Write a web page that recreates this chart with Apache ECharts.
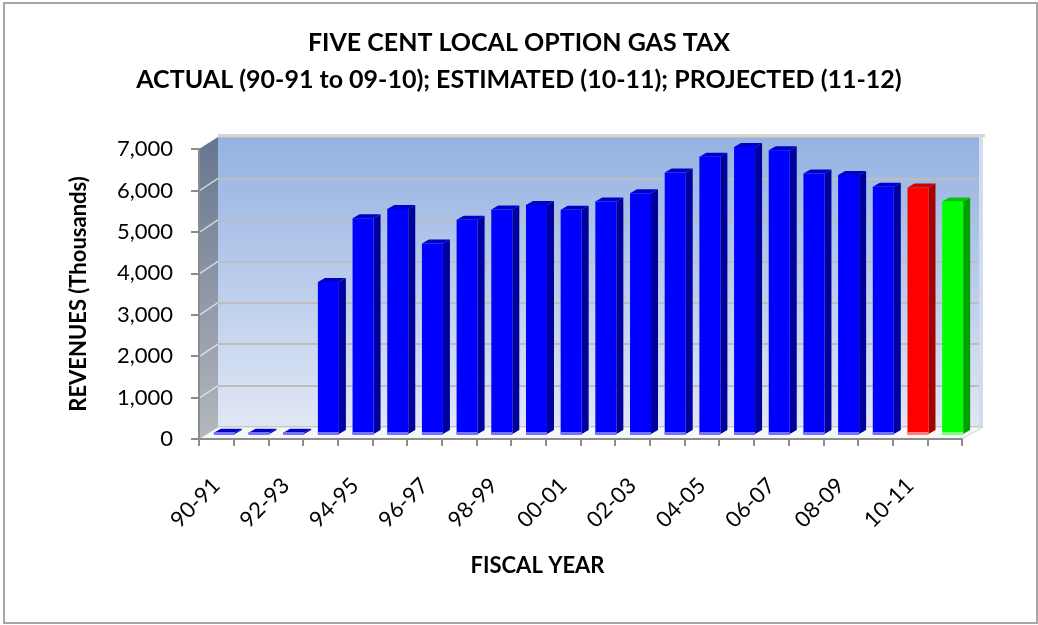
<!DOCTYPE html>
<html>
<head>
<meta charset="utf-8">
<title>Five Cent Local Option Gas Tax</title>
<script src="https://cdn.jsdelivr.net/npm/echarts@6/dist/echarts.min.js"></script>
<style>
  html, body { margin: 0; padding: 0; background: #ffffff; }
  #chart { width: 1038px; height: 625px; }
</style>
</head>
<body>
<div id="chart"></div>
<script>
// Fiscal years on the category axis
const fiscalYears = [
  '90-91', '91-92', '92-93', '93-94', '94-95', '95-96', '96-97', '97-98',
  '98-99', '99-00', '00-01', '01-02', '02-03', '03-04', '04-05', '05-06',
  '06-07', '07-08', '08-09', '09-10', '10-11', '11-12'
];

// Revenues in thousands of dollars
const actualRevenue = [
  30, 30, 30, 3670, 5210, 5430, 4600, 5170, 5420, 5530,
  5410, 5610, 5810, 6310, 6690, 6930, 6850, 6290, 6250, 5970
];                                   // 90-91 .. 09-10
const estimatedRevenue = [5950];     // 10-11
const projectedRevenue = [5610];     // 11-12

const yTicks = [0, 1000, 2000, 3000, 4000, 5000, 6000, 7000];

const FONT = 'Lato, "Open Sans", sans-serif';

// front plane of the plot (axes) and the back wall behind it
const FRONT = { left: 199, top: 149, width: 763, height: 290 };
const DEPTH = { dx: 19, dy: -12 };
const BACK = { left: FRONT.left + DEPTH.dx, top: FRONT.top + DEPTH.dy, width: 764, height: FRONT.height };

// pseudo-3D bar geometry
const BAR = { width: 21, ox: 8, oy: -5, sideX: 7, sideY: 4, band: 3 };

function bar3D(face, side, topFace, band) {
  return function (params, api) {
    const i = api.value(0);
    const v = api.value(1);
    const base = api.coord([i, 0]);
    const peak = api.coord([i, v]);
    const x = base[0] + BAR.ox - BAR.width / 2;
    const yb = base[1] + BAR.oy;
    const yt = peak[1] + BAR.oy;
    const w = BAR.width, sx = BAR.sideX, sy = BAR.sideY;
    return {
      type: 'group',
      children: [
        { type: 'polygon', shape: { points: [[x + w, yt], [x + w + sx, yt - sy], [x + w + sx, yb - sy], [x + w, yb]] },
          style: { fill: side } },
        { type: 'rect', shape: { x: x, y: yt, width: w, height: yb - yt }, style: { fill: face } },
        { type: 'polygon', shape: { points: [[x, yt], [x + sx, yt - sy], [x + w + sx, yt - sy], [x + w, yt]] },
          style: { fill: topFace } },
        { type: 'rect', shape: { x: x, y: yb - BAR.band + 1, width: w, height: BAR.band },
          style: { fill: band } }
      ]
    };
  };
}

function seriesData(values, startIndex) {
  return values.map((v, k) => [startIndex + k, v]);
}

const chart = echarts.init(document.getElementById('chart'), null, { renderer: 'canvas' });

const fy = (v) => FRONT.top + FRONT.height * (1 - v / yTicks[yTicks.length - 1]);

// left side wall, floor and frame
const graphics = [
  { type: 'rect', z: 100, shape: { x: 4, y: 3, width: 1033, height: 620 },
    style: { fill: null, stroke: '#a6a6a6', lineWidth: 2 } },
  { type: 'rect', z: 1, shape: { x: BACK.left, y: BACK.top - 3, width: BACK.width + 3, height: 3 },
    style: { fill: '#d4d4d4' } },
  { type: 'rect', z: 1, shape: { x: BACK.left + BACK.width - 3, y: BACK.top, width: 4, height: BACK.height },
    style: { fill: '#d3dcef' } },
  { type: 'polygon', z: 1, shape: { points: [
      [FRONT.left, FRONT.top + FRONT.height], [BACK.left, BACK.top + BACK.height],
      [BACK.left + BACK.width + 1, BACK.top + BACK.height], [FRONT.left + FRONT.width, FRONT.top + FRONT.height]] },
    style: { fill: '#f7f7f7', stroke: '#d0d0d0', lineWidth: 1 } },
  { type: 'polygon', z: 1, shape: { points: [
      [FRONT.left, FRONT.top], [BACK.left, BACK.top],
      [BACK.left, BACK.top + BACK.height], [FRONT.left, FRONT.top + FRONT.height]] },
    style: { fill: new echarts.graphic.LinearGradient(0, 0, 0, 1, [
      { offset: 0, color: '#66768f' }, { offset: 1, color: '#b4b7bd' }]) } }
];
yTicks.slice(1, -1).forEach((v) => {
  const y = fy(v);
  graphics.push({ type: 'line', z: 2, shape: { x1: FRONT.left + 1, y1: y, x2: BACK.left, y2: y + DEPTH.dy },
    style: { stroke: 'rgba(235,238,245,0.75)', lineWidth: 1.5 } });
});

chart.setOption({
  animation: false,
  backgroundColor: '#ffffff',
  title: {
    text: 'FIVE CENT LOCAL OPTION GAS TAX\nACTUAL (90-91 to 09-10); ESTIMATED (10-11); PROJECTED (11-12)',
    left: 'center',
    top: 19,
    textStyle: { fontFamily: FONT, fontSize: 25, fontWeight: 'bold', color: '#000', lineHeight: 37 }
  },
  grid: [
    { left: FRONT.left, top: FRONT.top, width: FRONT.width, height: FRONT.height, containLabel: false, z: 5 },
    { left: BACK.left, top: BACK.top, width: BACK.width, height: BACK.height, show: true, borderWidth: 0,
      backgroundColor: new echarts.graphic.LinearGradient(0, 0, 0, 1, [
        { offset: 0, color: '#94b2e2' }, { offset: 1, color: '#e0e7f4' }]), z: 0 }
  ],
  xAxis: [
    {
      type: 'category', gridIndex: 0, data: fiscalYears, boundaryGap: true,
      name: 'FISCAL YEAR', nameLocation: 'middle', nameGap: 116,
      nameTextStyle: { fontFamily: FONT, fontSize: 22, fontWeight: 'bold', color: '#000', padding: [0, 86, 0, 0] },
      axisLine: { show: true, lineStyle: { color: '#8c8c8c', width: 2 } },
      axisTick: { show: true, interval: 0, length: 7, lineStyle: { color: '#8c8c8c', width: 2 } },
      axisLabel: { interval: 1, rotate: 45, margin: 43, fontFamily: FONT, fontSize: 22, color: '#000' },
      splitLine: { show: false }, z: 10
    },
    { type: 'category', gridIndex: 1, data: fiscalYears, show: false }
  ],
  yAxis: [
    {
      type: 'value', gridIndex: 0, min: 0, max: 7000, interval: 1000,
      name: 'REVENUES (Thousands)', nameLocation: 'middle', nameGap: 109,
      nameTextStyle: { fontFamily: FONT, fontSize: 22, fontWeight: 'bold', color: '#000' },
      axisLine: { show: true, lineStyle: { color: '#8c8c8c', width: 2 } },
      axisTick: { show: true, length: 8, lineStyle: { color: '#8c8c8c', width: 2 } },
      axisLabel: { margin: 26, fontFamily: FONT, fontSize: 22, color: '#000',
        formatter: (v) => v.toLocaleString('en-US') },
      splitLine: { show: false }, z: 10
    },
    {
      type: 'value', gridIndex: 1, min: 0, max: 7000, interval: 1000,
      axisLine: { show: false }, axisTick: { show: false }, axisLabel: { show: false },
      splitLine: { show: true, lineStyle: { color: '#bdbdbd', width: 2 } }
    }
  ],
  series: [
    { name: 'Actual', type: 'custom', xAxisIndex: 0, yAxisIndex: 0, z: 6,
      renderItem: bar3D('#0000ff', '#00009c', '#0000c8', '#7373ff'),
      encode: { x: 0, y: 1 }, data: seriesData(actualRevenue, 0) },
    { name: 'Estimated', type: 'custom', xAxisIndex: 0, yAxisIndex: 0, z: 6,
      renderItem: bar3D('#ff0000', '#a30000', '#cc0000', '#ff7d7d'),
      encode: { x: 0, y: 1 }, data: seriesData(estimatedRevenue, actualRevenue.length) },
    { name: 'Projected', type: 'custom', xAxisIndex: 0, yAxisIndex: 0, z: 6,
      renderItem: bar3D('#00ff00', '#00a000', '#00c800', '#7dff7d'),
      encode: { x: 0, y: 1 }, data: seriesData(projectedRevenue, actualRevenue.length + estimatedRevenue.length) }
  ],
  graphic: graphics
});
</script>
</body>
</html>
